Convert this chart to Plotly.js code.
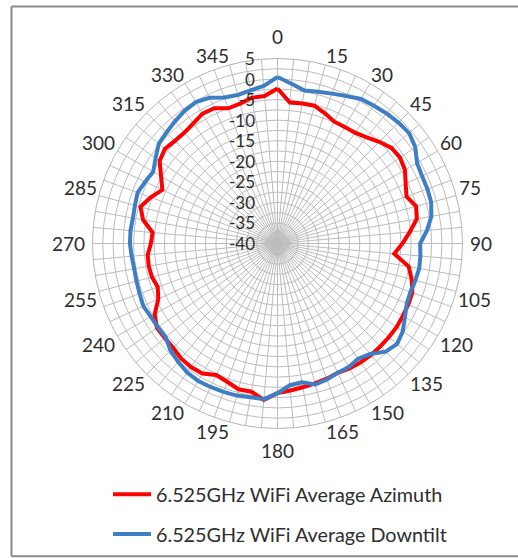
<!DOCTYPE html>
<html>
<head>
<meta charset="utf-8">
<script src="https://cdn.plot.ly/plotly-3.0.1.min.js"></script>
<style>
html,body{margin:0;padding:0;background:#fff;}
#chart{width:518px;height:558px;}
</style>
</head>
<body>
<div id="chart"></div>
<script>
// Angles in degrees (0..355 step 5), closed by repeating the first point
var angles = [0,5,10,15,20,25,30,35,40,45,50,55,60,65,70,75,80,85,90,95,100,105,110,115,120,125,130,135,140,145,150,155,160,165,170,175,180,185,190,195,200,205,210,215,220,225,230,235,240,245,250,255,260,265,270,275,280,285,290,295,300,305,310,315,320,325,330,335,340,345,350,355,0];

var azimuth = [-2.3,-5.6,-5.4,-5.3,-6.3,-7.3,-7.3,-7.1,-6.3,-5.0,-3.8,-3.6,-4.2,-5.6,-6.6,-5.1,-5.6,-7.7,-9.6,-11.5,-7.6,-6.2,-5.1,-4.9,-4.8,-4.6,-4.6,-4.6,-4.6,-4.7,-4.9,-5.3,-5.0,-4.8,-4.5,-4.1,-3.6,-1.8,-3.4,-3.3,-4.2,-4.7,-3.5,-3.3,-3.5,-4.1,-4.2,-4.2,-5.5,-8.0,-9.0,-8.4,-8.2,-8.3,-9.2,-9.5,-6.8,-5.5,-7.2,-9.1,-7.3,-5.0,-4.2,-4.7,-4.8,-4.3,-3.5,-3.7,-5.0,-4.8,-4.0,-4.0,-2.3];

var downtilt = [0.5,-1.0,-2.2,-1.8,-1.2,-0.4,0.6,0.9,1.3,1.6,1.8,0.9,-0.8,-1.2,-1.2,-1.3,-2.0,-3.5,-5.3,-5.1,-5.0,-5.3,-5.6,-5.3,-4.2,-2.8,-2.0,-2.8,-4.9,-5.8,-5.3,-5.3,-4.8,-4.5,-5.7,-5.4,-3.6,-2.0,-2.0,-1.7,-1.6,-1.5,-1.4,-1.7,-2.4,-3.2,-4.5,-4.5,-4.4,-4.0,-4.3,-4.5,-4.6,-4.4,-4.1,-4.1,-4.3,-4.1,-3.8,-4.5,-5.1,-3.8,-2.3,-1.8,-1.2,-0.6,-0.3,-0.9,-2.2,-2.6,-2.2,-1.5,0.5];

var seriesNames = ["6.525GHz WiFi Average Azimuth", "6.525GHz WiFi Average Downtilt"];

// Angular grid every 5 degrees, labelled every 15
var angGridVals = [];
for (var a = 0; a < 360; a += 5) angGridVals.push(a);
var angLabelVals = [];
for (var b = 0; b < 360; b += 15) angLabelVals.push(b);
// Radial rings every 2.5, labelled every 5
var RMIN = -40, RMAX = 5;
var radGridVals = [];
for (var v = RMIN; v <= RMAX; v += 2.5) radGridVals.push(v);
var radLabelVals = [];
for (var u = RMIN; u <= RMAX; u += 5) radLabelVals.push(u);

var FONT = "Lato, 'Open Sans', sans-serif";
var TXT = "#2e2e2e";

var traces = [
  {
    type: "scatterpolar", mode: "lines",
    r: azimuth, theta: angles, name: seriesNames[0],
    legendgroup: "a",
    line: {color: "#ff0000", width: 4}
  },
  {
    type: "scatterpolar", mode: "lines",
    r: downtilt, theta: angles, name: seriesNames[1],
    legendgroup: "b",
    line: {color: "#3d7ec4", width: 4}
  }
];

var W = 518, H = 558, cx = 277.5, cy = 243.5, R = 185;

// angular category labels placed just outside the outer ring (Excel style)
var annotations = angLabelVals.map(function (deg) {
  var t = deg * Math.PI / 180, s = Math.sin(t), c = Math.cos(t);
  var txt = String(deg);
  var w = 10.9 * txt.length, h = 14;
  var g;
  if (Math.abs(c) > 0.99) g = 15;
  else if (Math.abs(s) > 0.99) g = 7.5;
  else g = 2.5;
  var px = cx + (R + g) * s, py = cy - (R + g) * c;
  var sx = Math.abs(s) < 0.01 ? 0 : (s > 0 ? 1 : -1);
  var sy = Math.abs(c) < 0.01 ? 0 : (c > 0 ? 1 : -1);
  var X = px + sx * w / 2, Y = py - sy * h / 2;
  return {
    xref: "paper", yref: "paper", x: X / W, y: 1 - Y / H,
    xanchor: "center", yanchor: "middle", showarrow: false,
    text: txt, font: {family: FONT, size: 19, color: TXT}
  };
});
// radial value labels, right-aligned left of the 0-degree spoke
radLabelVals.forEach(function (val) {
  var Y = cy - (val - RMIN) / (RMAX - RMIN) * R;
  annotations.push({
    xref: "paper", yref: "paper", x: (cx - 22) / W, y: 1 - Y / H,
    xanchor: "right", yanchor: "middle", showarrow: false,
    borderpad: 0,
    text: String(val), font: {family: FONT, size: 17, color: TXT}
  });
});

var layout = {
  width: W, height: H,
  margin: {l: 0, r: 0, t: 0, b: 0, autoexpand: false},
  paper_bgcolor: "#ffffff",
  font: {family: FONT, size: 19, color: TXT},
  showlegend: true,
  legend: {
    x: 108 / W, xanchor: "left",
    y: 1 - 475 / H, yanchor: "top",
    orientation: "v",
    tracegroupgap: 11,
    itemwidth: 38,
    font: {family: FONT, size: 19.8, color: TXT},
    bgcolor: "rgba(0,0,0,0)"
  },
  polar: {
    domain: {x: [(cx - R) / W, (cx + R) / W], y: [(H - cy - R) / H, (H - cy + R) / H]},
    bgcolor: "#ffffff",
    angularaxis: {
      rotation: 90, direction: "clockwise",
      tickmode: "array", tickvals: angGridVals,
      showticklabels: false, ticks: "",
      showgrid: true, gridcolor: "#bcbcbc", gridwidth: 1,
      showline: true, linecolor: "#b4b4b4", linewidth: 1
    },
    radialaxis: {
      range: [RMIN, RMAX], angle: 90,
      tickmode: "array", tickvals: radGridVals,
      showticklabels: false, ticks: "",
      showgrid: true, gridcolor: "#bcbcbc", gridwidth: 1,
      showline: false
    }
  },
  annotations: annotations,
  shapes: [
    {type: "line", xref: "paper", yref: "paper", x0: 11.5 / W, x1: 11.5 / W, y0: 1 - 556.3 / H, y1: 1 - 6.5 / H, line: {color: "#8a8a8a", width: 2}},
    {type: "line", xref: "paper", yref: "paper", x0: 11.5 / W, x1: 1.02, y0: 1 - 6.5 / H, y1: 1 - 6.5 / H, line: {color: "#8a8a8a", width: 2}},
    {type: "line", xref: "paper", yref: "paper", x0: 11.5 / W, x1: 1.02, y0: 1 - 556.3 / H, y1: 1 - 556.3 / H, line: {color: "#8a8a8a", width: 2}}
  ]
};

Plotly.newPlot("chart", traces, layout, {displayModeBar: false, staticPlot: true});
</script>
</body>
</html>
